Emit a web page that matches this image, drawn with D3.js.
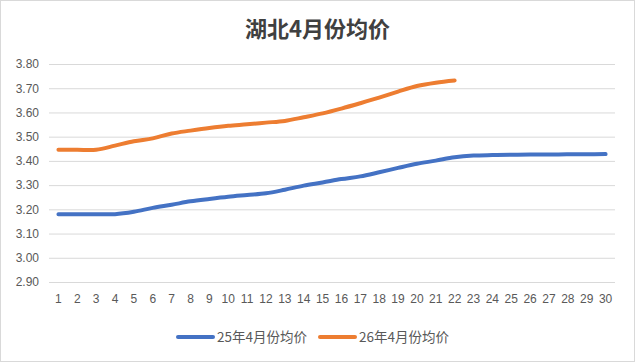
<!DOCTYPE html>
<html>
<head>
<meta charset="utf-8">
<script src="https://cdn.jsdelivr.net/npm/d3@7"></script>
<style>
  body { margin: 0; background: #fff; }
  text { font-family: "Liberation Sans", "Noto Sans CJK SC", sans-serif; fill: #595959; }
</style>
</head>
<body>
<div id="drawingArea"></div>
<script>
// day of month
var days = d3.range(1, 31);
var yTicks = [2.90, 3.00, 3.10, 3.20, 3.30, 3.40, 3.50, 3.60, 3.70, 3.80];

// 25年4月份均价
var price25 = [3.18, 3.18, 3.18, 3.18, 3.19, 3.206, 3.219, 3.233, 3.243, 3.252,
               3.259, 3.266, 3.281, 3.298, 3.311, 3.325, 3.336, 3.353, 3.371, 3.388,
               3.401, 3.415, 3.422, 3.424, 3.425, 3.426, 3.426, 3.427, 3.427, 3.428];
// 26年4月份均价 (only up to day 22)
var price26 = [3.446, 3.446, 3.446, 3.463, 3.481, 3.493, 3.513, 3.525, 3.536, 3.545,
               3.551, 3.558, 3.565, 3.58, 3.596, 3.616, 3.638, 3.661, 3.686, 3.709,
               3.723, 3.732];

var seriesNames = ["25年4月份均价", "26年4月份均价"];
var colors = ["#4472C4", "#ED7D31"];

var W = 635, H = 362;
var margin = {top: 64, right: 20, bottom: 80, left: 49};
var width = W - margin.left - margin.right,
    height = H - margin.top - margin.bottom;

var svg = d3.select("#drawingArea").append("svg")
    .attr("width", W)
    .attr("height", H);

// outer border
svg.append("rect")
    .attr("x", 0.5).attr("y", 0.5)
    .attr("width", W - 1).attr("height", H - 1)
    .attr("fill", "#fff")
    .attr("stroke", "#d9d9d9");

svg.append("text")
    .attr("x", W / 2)
    .attr("y", 37)
    .attr("text-anchor", "middle")
    .style("font-family", "'Noto Sans CJK SC', sans-serif")
    .style("font-size", "22px")
    .style("font-weight", "bold")
    .style("fill", "#404040")
    .text("湖北4月份均价");

var g = svg.append("g")
    .attr("transform", "translate(" + margin.left + "," + margin.top + ")");

var x = d3.scaleBand()
    .domain(days)
    .range([0, width]);

var y = d3.scaleLinear()
    .domain([2.9, 3.8])
    .range([height, 0]);

// gridlines
g.append("g")
    .call(d3.axisLeft(y).tickValues(yTicks).tickSize(-width).tickFormat(""))
    .call(function(s) {
        s.select(".domain").remove();
        s.selectAll("line").attr("stroke", "#d9d9d9");
    });

// y labels
g.append("g")
    .call(d3.axisLeft(y).tickValues(yTicks).tickSize(0).tickPadding(10)
        .tickFormat(d3.format(".2f")))
    .call(function(s) {
        s.select(".domain").remove();
        s.selectAll("text").style("font-size", "12px").attr("fill", "#595959");
    });

// x labels
g.append("g")
    .attr("transform", "translate(0," + height + ")")
    .call(d3.axisBottom(x).tickSize(0).tickPadding(12))
    .call(function(s) {
        s.select(".domain").remove();
        s.selectAll("text").style("font-size", "12px").attr("fill", "#595959");
    });

var line = d3.line()
    .x(function(d, i) { return x(days[i]) + x.bandwidth() / 2; })
    .y(function(d) { return y(d); })
    .curve(d3.curveCatmullRom.alpha(0.5));

[price25, price26].forEach(function(data, k) {
    g.append("path")
        .datum(data)
        .attr("fill", "none")
        .attr("stroke", colors[k])
        .attr("stroke-width", 4)
        .attr("stroke-linecap", "round")
        .attr("d", line);
});

// legend
var legend = svg.append("g").attr("transform", "translate(178,337)");
var lx = [0, 142];
seriesNames.forEach(function(name, k) {
    var item = legend.append("g").attr("transform", "translate(" + lx[k] + ",0)");
    item.append("line")
        .attr("x1", 0).attr("x2", 35)
        .attr("stroke", colors[k])
        .attr("stroke-width", 4)
        .attr("stroke-linecap", "round");
    item.append("text")
        .attr("x", 39)
        .attr("y", 5)
        .style("font-size", "13.5px")
        .style("font-family", "'Noto Sans CJK SC', sans-serif")
        .text(name);
});
</script>
</body>
</html>
